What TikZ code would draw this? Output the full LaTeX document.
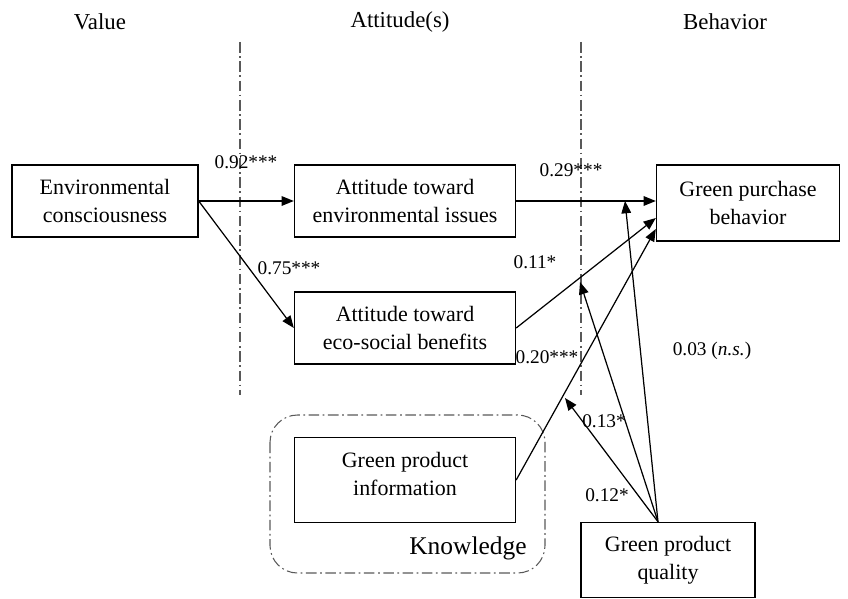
\documentclass[tikz,border=0pt]{standalone}
\usepackage{fontspec}
\setmainfont{Liberation Serif}
\usetikzlibrary{arrows.meta}
\begin{document}
\begin{tikzpicture}[x=0.02cm, y=-0.02cm,
    box/.style={draw, line width=0.8pt, align=center, font=\fontsize{12.5}{16}\selectfont, inner sep=0pt},
    head/.style={font=\fontsize{13}{16}\selectfont},
    coef/.style={font=\fontsize{11}{13}\selectfont},
    arr/.style={-{Triangle[length=7pt,width=5.5pt]}, line width=0.7pt},
    divider/.style={gray!70!black, line width=0.6pt, dash pattern=on 6pt off 2pt on 1pt off 2pt}]
    \useasboundingbox (0,0) rectangle (848,598);
    % Headings and dividers
    \node[head] (hvalue) at (100,22) {Value};
    \node[head] (hatt) at (400,22) {Attitude(s)};
    \node[head] (hbeh) at (725,22) {Behavior};
    \draw[divider] (240,42) -- (240,395);
    \draw[divider] (581,42) -- (581,395);
    % Knowledge group
    \draw[divider, rounded corners=0.55cm] (270,415) rectangle (545,573);
    \node[font=\fontsize{14.5}{17}\selectfont] (know) at (468,548) {Knowledge};
    % Nodes
    \node[box, minimum width=3.72cm, minimum height=1.44cm] (env) at (105,201) {Environmental\\consciousness};
    \node[box, minimum width=4.42cm, minimum height=1.44cm] (attenv) at (405,201) {Attitude toward\\environmental issues};
    \node[box, minimum width=4.42cm, minimum height=1.44cm] (atteco) at (405,328) {Attitude toward\\eco-social benefits};
    \node[box, minimum width=4.42cm, minimum height=1.70cm] (info) at (405,480) {};
    \node[align=center, font=\fontsize{12.5}{16}\selectfont] (infotext) at (405,474) {Green product\\information};
    \node[box, minimum width=3.66cm, minimum height=1.52cm] (gpb) at (748,203) {Green purchase\\behavior};
    \node[box, minimum width=3.48cm, minimum height=1.5cm] (qual) at (668,560) {Green product\\quality};
    \coordinate (qtop) at ([xshift=-0.2cm]qual.north);
    \coordinate (mod1) at (625,201);
    \coordinate (mod2) at (580,282);
    \coordinate (mod3) at (565,398);
    % Connection
    \draw[arr] (env.east) -- (attenv.west);
    \draw[arr] (env.east) -- (atteco.west);
    \draw[arr] (attenv.east) -- (attenv.east -| gpb.west);
    \draw[arr] (atteco.east) -- ([yshift=-0.3cm]gpb.west);
    \draw[arr] (info.east) -- ([yshift=-0.52cm]gpb.west);
    \draw[arr] (qtop) -- (mod1);
    \draw[arr] (qtop) -- (mod2);
    \draw[arr] (qtop) -- (mod3);
    % Coefficients
    \node[coef] (c1) at (246,162) {0.92***};
    \node[coef] (c2) at (289,268) {0.75***};
    \node[coef] (c3) at (571,170) {0.29***};
    \node[coef] (c4) at (535,262) {0.11*};
    \node[coef] (c5) at (547,357) {0.20***};
    \node[coef] (c6) at (712,351) {0.03 (\textit{n.s.})};
    \node[coef] (c7) at (604,421) {0.13*};
    \node[coef] (c8) at (607,495) {0.12*};
\end{tikzpicture}
\end{document}
